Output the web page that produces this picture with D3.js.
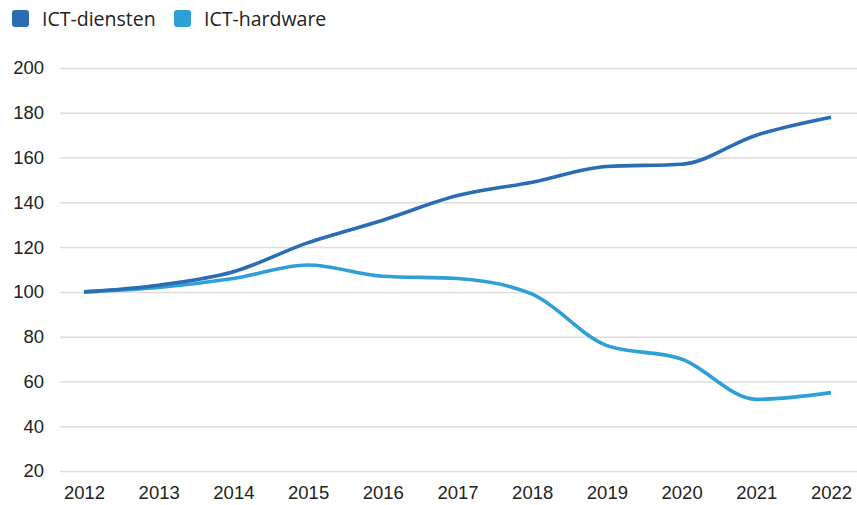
<!DOCTYPE html>
<html>
<head>
<meta charset="utf-8">
<script src="https://cdn.jsdelivr.net/npm/d3@7"></script>
<style>
  body { margin: 0; background: #fff; }
  svg { font-family: "Open Sans", "Noto Sans", sans-serif; }
</style>
</head>
<body>
<div id="chart"></div>
<script>
const years = [2012, 2013, 2014, 2015, 2016, 2017, 2018, 2019, 2020, 2021, 2022];
const diensten = [100, 103, 109, 122, 132, 143, 149, 156, 157, 170, 178];
const hardware = [100, 102, 106, 112, 107, 106, 99, 76, 70, 52, 55];
const yTicks = [20, 40, 60, 80, 100, 120, 140, 160, 180, 200];

const series = [
    { name: "ICT-diensten", color: "#2a6db5", values: diensten },
    { name: "ICT-hardware", color: "#2f9fd8", values: hardware }
];

const width = 857, height = 505;
const margin = { top: 68, right: 26, bottom: 34, left: 84 };

const svg = d3.select("#chart")
    .append("svg")
    .attr("width", width)
    .attr("height", height);

const x = d3.scalePoint()
    .domain(years)
    .range([margin.left, width - margin.right]);

const y = d3.scaleLinear()
    .domain([20, 200])
    .range([height - margin.bottom, margin.top]);

// gridlines + y labels
const yAxis = svg.append("g")
    .attr("transform", "translate(60,0)")
    .call(d3.axisLeft(y).tickValues(yTicks).tickSize(-(width - 60)).tickPadding(16));
yAxis.select(".domain").remove();
yAxis.selectAll(".tick line").attr("stroke", "#dcdcdc").attr("stroke-width", 1.5);
yAxis.selectAll(".tick text").attr("fill", "#222").attr("font-size", 18.5);

// x labels
const xAxis = svg.append("g")
    .attr("transform", `translate(0,${height - margin.bottom})`)
    .call(d3.axisBottom(x).tickSize(0).tickPadding(15).tickFormat(d3.format("d")));
xAxis.select(".domain").remove();
xAxis.selectAll(".tick text").attr("fill", "#222").attr("font-size", 18.5);

const line = d3.line()
    .x((d, i) => x(years[i]))
    .y(d => y(d))
    .curve(d3.curveMonotoneX);

svg.append("g")
    .selectAll("path")
    .data(series.slice().reverse())
    .join("path")
    .attr("fill", "none")
    .attr("stroke", d => d.color)
    .attr("stroke-width", 3.6)
    .attr("d", d => line(d.values));

// legend
const legendX = [12, 174];
const legend = svg.append("g")
    .selectAll("g")
    .data(series)
    .join("g")
    .attr("transform", (d, i) => `translate(${legendX[i]},10)`);
legend.append("rect")
    .attr("width", 17).attr("height", 17).attr("rx", 3)
    .attr("fill", d => d.color);
legend.append("text")
    .attr("x", 30).attr("y", 15.5)
    .attr("font-size", 19.5)
    .attr("fill", "#222")
    .text(d => d.name);
</script>
</body>
</html>
